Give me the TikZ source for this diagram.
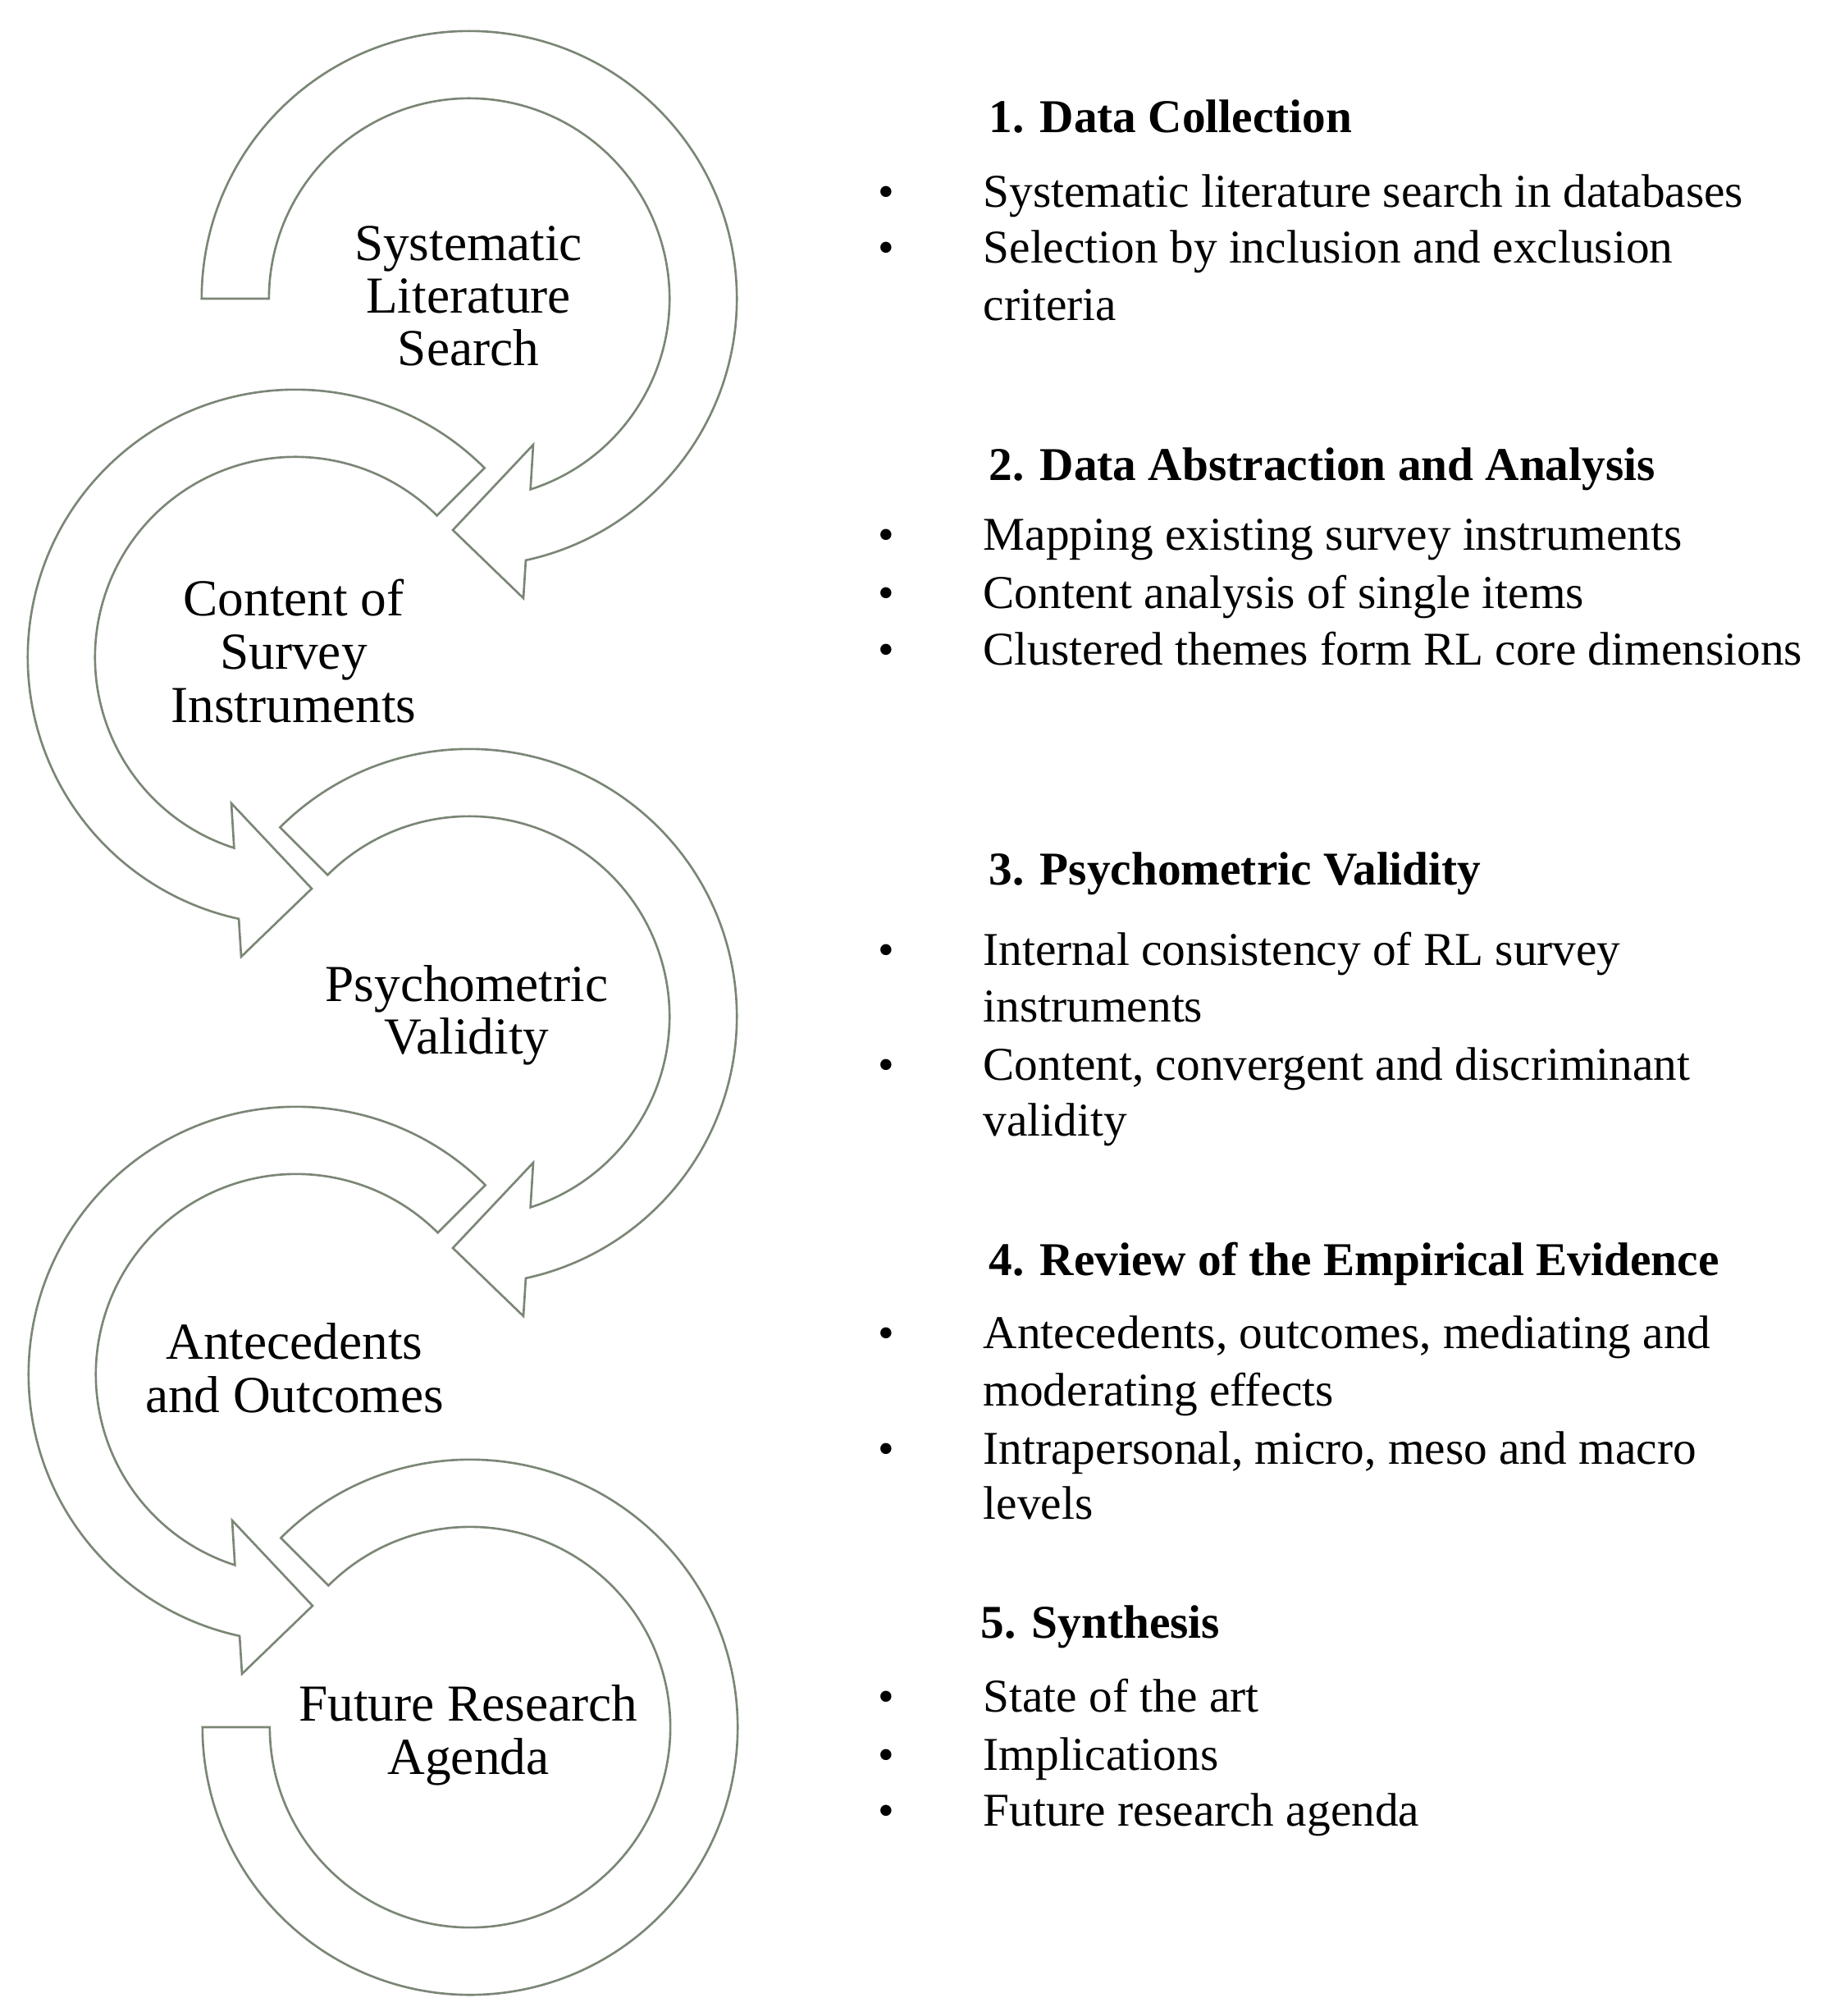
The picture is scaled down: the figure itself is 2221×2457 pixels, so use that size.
\documentclass[tikz,border=0pt]{standalone}
\usepackage{fontspec}
\setmainfont{Liberation Serif}
\definecolor{arcline}{RGB}{122,134,118}
\tikzset{
  band/.style={draw=arcline, line width=0.75pt, fill=white, line join=miter},
  lbl/.style={anchor=base, inner sep=0pt, font=\fontsize{18}{18}\selectfont},
  headtxt/.style={anchor=base west, inner sep=0pt, font=\fontsize{16.3}{19}\selectfont\bfseries},
  itemtxt/.style={anchor=base west, inner sep=0pt, font=\fontsize{16.3}{19}\selectfont},
  bul/.style={anchor=base, inner sep=0pt, font=\fontsize{16}{16}\selectfont},
}
\begin{document}
\begin{tikzpicture}[x=0.01cm, y=0.01cm]
\useasboundingbox (0,0) rectangle (2221,-2457);
\fill[white] (0,0) rectangle (2221,-2457);

% centres of the circular arrows
\coordinate (c1) at (572,-364);
\coordinate (c2) at (360,-801);
\coordinate (c3) at (572,-1239);
\coordinate (c4) at (361,-1675);
\coordinate (c5) at (573,-2105);

% arrow 1 (clockwise)
\draw[band] ([shift={(180:3.26cm)}]c1) arc[start angle=180, end angle=-77.8, radius=3.26cm]
  -- ([shift={(66,-365)}]c1) -- ([shift={(-20,-282)}]c1) -- ([shift={(78,-178)}]c1)
  -- ([shift={(-72.2:2.44cm)}]c1) arc[start angle=-72.2, end angle=180, radius=2.44cm] -- cycle;
% arrow 2 (counter-clockwise)
\draw[band] ([shift={(45:3.26cm)}]c2) arc[start angle=45, end angle=257.8, radius=3.26cm]
  -- ([shift={(-66,-365)}]c2) -- ([shift={(20,-282)}]c2) -- ([shift={(-78,-178)}]c2)
  -- ([shift={(252.2:2.44cm)}]c2) arc[start angle=252.2, end angle=45, radius=2.44cm] -- cycle;
% arrow 3 (clockwise)
\draw[band] ([shift={(135:3.26cm)}]c3) arc[start angle=135, end angle=-77.8, radius=3.26cm]
  -- ([shift={(66,-365)}]c3) -- ([shift={(-20,-282)}]c3) -- ([shift={(78,-178)}]c3)
  -- ([shift={(-72.2:2.44cm)}]c3) arc[start angle=-72.2, end angle=135, radius=2.44cm] -- cycle;
% arrow 4 (counter-clockwise)
\draw[band] ([shift={(45:3.26cm)}]c4) arc[start angle=45, end angle=257.8, radius=3.26cm]
  -- ([shift={(-66,-365)}]c4) -- ([shift={(20,-282)}]c4) -- ([shift={(-78,-178)}]c4)
  -- ([shift={(252.2:2.44cm)}]c4) arc[start angle=252.2, end angle=45, radius=2.44cm] -- cycle;
% arc 5 (clockwise, no head)
\draw[band] ([shift={(135:3.26cm)}]c5) arc[start angle=135, end angle=-180, radius=3.26cm]
  -- ([shift={(-180:2.44cm)}]c5) arc[start angle=-180, end angle=135, radius=2.44cm] -- cycle;

% labels inside the arrows
\node[lbl] (t1a) at (571,-317) {Systematic};
\node[lbl] (t1b) at (571,-381) {Literature};
\node[lbl] (t1c) at (571,-445) {Search};
\node[lbl] (t2a) at (358,-750) {Content of};
\node[lbl] (t2b) at (358,-815) {Survey};
\node[lbl] (t2c) at (358,-880) {Instruments};
\node[lbl] (t3a) at (569,-1220) {Psychometric};
\node[lbl] (t3b) at (569,-1284) {Validity};
\node[lbl] (t4a) at (359,-1656) {Antecedents};
\node[lbl] (t4b) at (359,-1721) {and Outcomes};
\node[lbl] (t5a) at (571,-2097) {Future Research};
\node[lbl] (t5b) at (571,-2162) {Agenda};

% right column
\node[headtxt] (h1) at (1205,-161) {1. Data Collection};
\node[bul] (b1a) at (1080,-252) {•};
\node[itemtxt] (i1a) at (1198,-252) {Systematic literature search in databases};
\node[bul] (b1b) at (1080,-320) {•};
\node[itemtxt] (i1b) at (1198,-320) {Selection by inclusion and exclusion};
\node[itemtxt] (i1c) at (1198,-390) {criteria};

\node[headtxt] (h2) at (1205,-585) {2. Data Abstraction and Analysis};
\node[bul] (b2a) at (1080,-670) {•};
\node[itemtxt] (i2a) at (1198,-670) {Mapping existing survey instruments};
\node[bul] (b2b) at (1080,-741) {•};
\node[itemtxt] (i2b) at (1198,-741) {Content analysis of single items};
\node[bul] (b2c) at (1080,-810) {•};
\node[itemtxt] (i2c) at (1198,-810) {Clustered themes form RL core dimensions};

\node[headtxt] (h3) at (1205,-1078) {3. Psychometric Validity};
\node[bul] (b3a) at (1080,-1176) {•};
\node[itemtxt] (i3a) at (1198,-1176) {Internal consistency of RL survey};
\node[itemtxt] (i3b) at (1198,-1245) {instruments};
\node[bul] (b3c) at (1080,-1316) {•};
\node[itemtxt] (i3c) at (1198,-1316) {Content, convergent and discriminant};
\node[itemtxt] (i3d) at (1198,-1384) {validity};

\node[headtxt] (h4) at (1205,-1554) {4. Review of the Empirical Evidence};
\node[bul] (b4a) at (1080,-1643) {•};
\node[itemtxt] (i4a) at (1198,-1643) {Antecedents, outcomes, mediating and};
\node[itemtxt] (i4b) at (1198,-1713) {moderating effects};
\node[bul] (b4c) at (1080,-1784) {•};
\node[itemtxt] (i4c) at (1198,-1784) {Intrapersonal, micro, meso and macro};
\node[itemtxt] (i4d) at (1198,-1851) {levels};

\node[headtxt] (h5) at (1195,-1996) {5. Synthesis};
\node[bul] (b5a) at (1080,-2086) {•};
\node[itemtxt] (i5a) at (1198,-2086) {State of the art};
\node[bul] (b5b) at (1080,-2157) {•};
\node[itemtxt] (i5b) at (1198,-2157) {Implications};
\node[bul] (b5c) at (1080,-2225) {•};
\node[itemtxt] (i5c) at (1198,-2225) {Future research agenda};
\end{tikzpicture}
\end{document}
